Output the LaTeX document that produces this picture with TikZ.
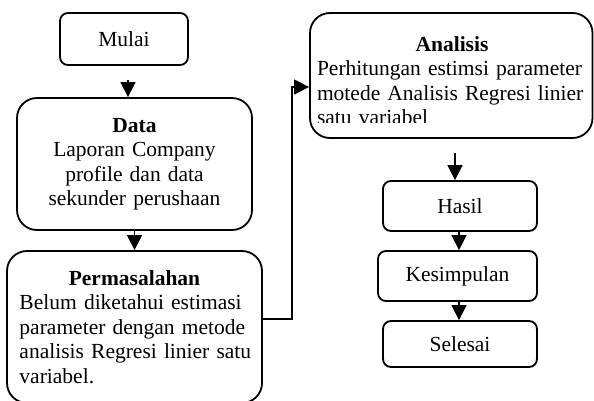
\documentclass[tikz,border=0pt]{standalone}
\usepackage{fontspec}
\setmainfont{Liberation Serif}
\usetikzlibrary{arrows.meta}
\begin{document}
\begin{tikzpicture}[x=1pt,y=-1pt,
  box/.style={draw, line width=1.8pt, inner sep=0pt, font=\fontsize{21.5}{24.5}\selectfont, align=center},
  smallbox/.style={box, rounded corners=8pt},
  bigbox/.style={box, rounded corners=20pt},
  arr/.style={line width=1.5pt, line join=miter, -{Triangle[width=15pt,length=15pt]}}]
\useasboundingbox (0,0) rectangle (594,400);
\node[smallbox, minimum width=128pt, minimum height=52pt] (mulai) at (124,39) {Mulai};
\node[bigbox, minimum width=235pt, minimum height=132pt, text width=220pt] (data) at (134.5,164)
  {\textbf{Data}\\Laporan Company\\profile dan data\\sekunder perushaan};
\node[bigbox, minimum width=255pt, minimum height=152pt, text width=230pt] (perm) at (134.5,327)
  {\textbf{Permasalahan}\\
   \makebox[230pt][s]{Belum diketahui estimasi}\\
   \makebox[230pt][s]{parameter dengan metode}\\
   \makebox[230pt][s]{analisis Regresi linier satu}\\
   \makebox[230pt][l]{variabel.}};
\node[bigbox, minimum width=282.5pt, minimum height=125pt] (ana) at (451.25,75.5) {};
\begin{scope}
  \clip (310,13) rectangle (594,122.5);
  \node[box, draw=none, text width=270pt] (anatext) at (452,80.5)
    {\textbf{Analisis}\\
     \makebox[270pt][s]{Perhitungan estimsi parameter}\\
     \makebox[270pt][s]{motede Analisis Regresi linier}\\
     \makebox[270pt][l]{satu variabel}};
\end{scope}
\node[smallbox, minimum width=154pt, minimum height=50pt] (hasil) at (460,206) {Hasil};
\node[smallbox, minimum width=159pt, minimum height=50pt] (kes) at (457.5,276) {Kesimpulan};
\node[smallbox, minimum width=154pt, minimum height=46pt] (sel) at (460,344) {Selesai};
\coordinate (mx) at (128,80);
\coordinate (ax) at (455,153);
\coordinate (kx) at (459,0);
\coordinate (j1) at (292,319);
\coordinate (j2) at (292,87);
\draw[arr] (mx) -- (mx |- data.north);
\draw[arr] (data.south) -- (perm.north);
\draw[arr] (perm.east |- j1) -- (j1) -- (j2) -- (ana.west |- j2);
\draw[arr] (ax) -- (ax |- hasil.north);
\draw[arr] (hasil.south -| kx) -- (kes.north -| kx);
\draw[arr] (kes.south -| kx) -- (sel.north -| kx);
\end{tikzpicture}
\end{document}
